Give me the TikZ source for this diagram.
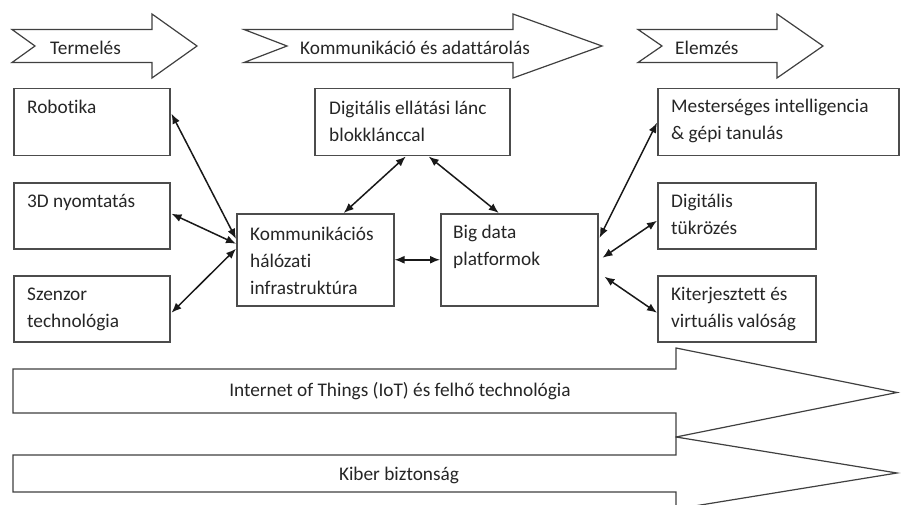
\documentclass[tikz,border=0pt]{standalone}
\usepackage{fontspec}
\setmainfont{Carlito}[Ligatures={NoCommon}]
\usetikzlibrary{arrows.meta}
\begin{document}
\begin{tikzpicture}[x=1pt,y=-1pt,
  box/.style={draw=black!70, line width=1.5pt, anchor=north west, inner sep=0pt},
  txt/.style={anchor=base west, inner sep=0pt, font=\fontsize{19.3}{27}\selectfont, text=black!85},
  ctxt/.style={txt, anchor=base},
  conn/.style={{Latex[length=10pt,width=8pt]}-{Latex[length=10pt,width=8pt]}, line width=1.5pt, draw=black!90},
  band/.style={draw=black!75, line width=1.2pt, line join=miter, fill=white}]
\useasboundingbox (0,0) rectangle (901,505);
\fill[white] (0,0) rectangle (901,505);
\clip (0,0) rectangle (901,505);

% top phase arrows
\draw[band] (12,29.5) -- (152,29.5) -- (152,14) -- (197,46) -- (152,78) -- (152,62.5) -- (12,62.5) -- (35,46) -- cycle;
\draw[band] (244,29.5) -- (513,29.5) -- (513,14) -- (602,46) -- (513,78) -- (513,62.5) -- (244,62.5) -- (287,46) -- cycle;
\draw[band] (638,29.5) -- (777,29.5) -- (777,14) -- (823,46) -- (777,78) -- (777,62.5) -- (638,62.5) -- (662,46) -- cycle;
\node[txt] (t1) at (50,55) {Termelés};
\node[txt] (t2) at (300,55) {Kommunikáció és adattárolás};
\node[txt] (t3) at (675,55) {Elemzés};

% boxes
\node[box, minimum width=156pt, minimum height=67pt] (robot) at (13,88) {};
\node[box, minimum width=156pt, minimum height=66pt] (d3) at (13,182) {};
\node[box, minimum width=156pt, minimum height=66pt] (szenz) at (13,275) {};
\node[box, minimum width=157pt, minimum height=92pt] (komm) at (236,213) {};
\node[box, minimum width=195pt, minimum height=67pt] (dig) at (314,88) {};
\node[box, minimum width=157pt, minimum height=92pt] (big) at (440,213) {};
\node[box, minimum width=241pt, minimum height=67pt] (mest) at (657,88) {};
\node[box, minimum width=158pt, minimum height=66pt] (tuk) at (657,182) {};
\node[box, minimum width=158pt, minimum height=66pt] (kit) at (657,275) {};

\node[txt] (robotT) at ([shift={(14,26)}]robot.north west) {\parbox[t]{150pt}{Robotika}};
\node[txt] (d3T) at ([shift={(14,25)}]d3.north west) {\parbox[t]{150pt}{3D nyomtatás}};
\node[txt] (szenzT) at ([shift={(14,25)}]szenz.north west) {\parbox[t]{150pt}{Szenzor\\technológia}};
\node[txt] (kommT) at ([shift={(14,27)}]komm.north west) {\parbox[t]{150pt}{Kommunikációs\\hálózati\\infrastruktúra}};
\node[txt] (digT) at ([shift={(15,27)}]dig.north west) {\parbox[t]{190pt}{Digitális ellátási lánc\\blokklánccal}};
\node[txt] (bigT) at ([shift={(13,25)}]big.north west) {\parbox[t]{150pt}{Big data\\platformok}};
\node[txt] (mestT) at ([shift={(14,25)}]mest.north west) {\parbox[t]{230pt}{Mesterséges intelligencia\\\& gépi tanulás}};
\node[txt] (tukT) at ([shift={(14,25)}]tuk.north west) {\parbox[t]{150pt}{Digitális\\tükrözés}};
\node[txt] (kitT) at ([shift={(14,25)}]kit.north west) {\parbox[t]{150pt}{Kiterjesztett és\\virtuális valóság}};

% connectors
\draw[conn] ([shift={(1,-8.5)}]robot.east) -- ([shift={(0,-21)}]komm.west);
\draw[conn] ([shift={(1,-2)}]d3.east) -- ([shift={(0,-16)}]komm.west);
\draw[conn] ([shift={(1,4)}]szenz.east) -- ([shift={(0,-11)}]komm.west);
\draw[conn] ([shift={(28.5,0)}]komm.north) -- ([shift={(-6.5,0)}]dig.south);
\draw[conn] (komm.east) -- (big.west);
\draw[conn] ([shift={(16.5,0)}]dig.south) -- ([shift={(-20.5,0)}]big.north);
\draw[conn] ([shift={(1,-22)}]big.east) -- ([shift={(0,0.5)}]mest.west);
\draw[conn] ([shift={(4,-2)}]big.east) -- ([shift={(0,5)}]tuk.west);
\draw[conn] ([shift={(6,17)}]big.east) -- ([shift={(0,4)}]kit.west);

% bottom arrows
\draw[band] (13,369) -- (676,369) -- (676,348) -- (897,392.5) -- (676,437) -- (676,413) -- (13,413) -- cycle;
\draw[band] (13,455) -- (676,455) -- (676,437) -- (897,473) -- (676,509) -- (676,492) -- (13,492) -- cycle;
\node[ctxt] (iot) at (400,396) {Internet of Things (IoT) és felhő technológia};
\node[ctxt] (kiber) at (399,480) {Kiber biztonság};
\end{tikzpicture}
\end{document}
